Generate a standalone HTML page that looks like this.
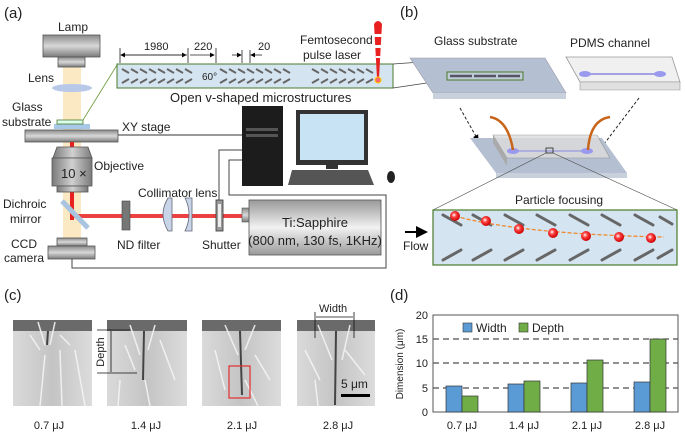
<!DOCTYPE html>
<html><head><meta charset="utf-8"><style>
html,body{margin:0;padding:0;background:#fff}
svg{display:block;font-family:"Liberation Sans",sans-serif}
</style></head><body>
<svg width="685" height="434" viewBox="0 0 685 434" xmlns="http://www.w3.org/2000/svg">
<defs>
<linearGradient id="gv" x1="0" y1="0" x2="0" y2="1"><stop offset="0" stop-color="#8a8a8a"/><stop offset=".5" stop-color="#d8d8d8"/><stop offset="1" stop-color="#7a7a7a"/></linearGradient>
<linearGradient id="gh" x1="0" y1="0" x2="1" y2="0"><stop offset="0" stop-color="#7a7a7a"/><stop offset=".5" stop-color="#d0d0d0"/><stop offset="1" stop-color="#7a7a7a"/></linearGradient>
<linearGradient id="gl" x1="0" y1="0" x2="0" y2="1"><stop offset="0" stop-color="#999"/><stop offset=".5" stop-color="#f2f2f2"/><stop offset="1" stop-color="#999"/></linearGradient>
<linearGradient id="sem" x1="0" y1="0" x2="1" y2="0"><stop offset="0" stop-color="#dadada"/><stop offset=".5" stop-color="#c4c4c4"/><stop offset="1" stop-color="#dcdcdc"/></linearGradient>
<radialGradient id="rb" cx=".4" cy=".4" r=".6"><stop offset="0" stop-color="#fff"/><stop offset=".4" stop-color="#ff4040"/><stop offset="1" stop-color="#c00"/></radialGradient>
<marker id="ar" markerWidth="6" markerHeight="6" refX="5" refY="3" orient="auto"><path d="M0,0L6,3L0,6z" fill="#000"/></marker>
</defs>
<g font-size="12" fill="#222">
<text x="4" y="18" font-size="15">(a)</text>
<rect x="63" y="67" width="18" height="178" fill="#fbe9c4"/>
<rect x="43" y="35" width="57" height="22" fill="url(#gv)" stroke="#555" stroke-width=".8"/>
<rect x="58" y="57" width="27" height="10" fill="url(#gv)" stroke="#555" stroke-width=".8"/>
<text x="58" y="31">Lamp</text>
<ellipse cx="72" cy="88" rx="20" ry="4" fill="#b8c8e8"/>
<text x="28" y="82">Lens</text>
<text x="12" y="111">Glass</text><text x="2" y="126">substrate</text>
<rect x="54" y="124" width="36" height="5" fill="#a8c8e8"/>
<rect x="57" y="120" width="26" height="4" fill="#dfe" stroke="#4a7a2a" stroke-width=".8"/>
<rect x="25" y="130" width="93" height="12" fill="url(#gv)" stroke="#555" stroke-width=".8"/>
<text x="122" y="131">XY stage</text>
<line x1="118" y1="135" x2="242" y2="135" stroke="#333"/>
<rect x="70" y="142" width="4" height="78" fill="#e82020"/>
<path d="M57,147 L88,147 L92,158 L53,158Z" fill="url(#gh)" stroke="#555" stroke-width=".8"/>
<rect x="52" y="158" width="40" height="28" fill="url(#gh)" stroke="#555" stroke-width=".8"/>
<rect x="57" y="186" width="31" height="6" fill="url(#gh)" stroke="#555" stroke-width=".8"/>
<text x="61" y="178" font-size="13">10 ×</text>
<text x="94" y="170">Objective</text>
<rect x="74" y="214" width="170" height="4" fill="#e82020" opacity=".85"/>
<line x1="62" y1="201" x2="88" y2="228" stroke="#a8c4e0" stroke-width="5"/>
<text x="3" y="208">Dichroic</text><text x="10" y="223">mirror</text>
<rect x="122" y="201" width="8" height="29" fill="#777" stroke="#444" stroke-width=".6"/>
<text x="117" y="249">ND filter</text>
<text x="138" y="197">Collimator lens</text>
<path d="M168,198 Q158,214 168,231 L172,231 L172,198Z" fill="#c8d4e8" stroke="#667" stroke-width=".8"/>
<path d="M185,198 Q193,214 185,231 L192,231 L192,198Z" fill="#c8d4e8" stroke="#667" stroke-width=".8"/>
<rect x="216" y="200" width="7" height="31" fill="#999" stroke="#333" stroke-width=".8"/>
<rect x="218" y="204" width="3" height="23" fill="#eee"/>
<text x="202" y="249">Shutter</text>
<rect x="242" y="208" width="7" height="14" fill="url(#gv)" stroke="#555" stroke-width=".6"/>
<rect x="249" y="200" width="132" height="55" fill="url(#gl)" stroke="#555" stroke-width=".8"/>
<text x="315" y="227" text-anchor="middle" font-size="13">Ti:Sapphire</text>
<text x="315" y="245" text-anchor="middle" font-size="13">(800 nm, 130 fs, 1KHz)</text>
<rect x="57" y="238" width="30" height="8" fill="url(#gv)" stroke="#555" stroke-width=".8"/>
<rect x="48" y="246" width="47" height="13" fill="url(#gv)" stroke="#555" stroke-width=".8"/>
<text x="11" y="248">CCD</text><text x="4" y="262">camera</text>
<path d="M72,259 V268 H386 V195 H229 V160 H242" fill="none" stroke="#444"/>
<path d="M219,200 V150 H242" fill="none" stroke="#444"/>
<rect x="242" y="106" width="41" height="80" fill="#1c1c1c"/>
<rect x="246" y="128" width="32" height="3" fill="#555"/><rect x="246" y="134" width="32" height="3" fill="#555"/>
<rect x="296" y="110" width="72" height="55" fill="#333"/>
<rect x="300" y="114" width="64" height="46" fill="#c8e4f4"/>
<rect x="326" y="165" width="12" height="4" fill="#333"/>
<path d="M292,170 L368,170 L374,185 L288,185Z" fill="#555"/>
<ellipse cx="391" cy="177" rx="4" ry="6" fill="#222"/>
<line x1="83" y1="120" x2="117" y2="65" stroke="#6a9a3a" stroke-width=".8"/>
<rect x="117" y="64" width="276" height="24" fill="#d4e4f0" stroke="#4a7a2a"/>
<g stroke="#666" stroke-width="2">
<path d="M122,69 l7,4 M131,69 l7,4 M140,69 l7,4 M149,69 l7,4 M158,69 l7,4 M167,69 l7,4 M176,69 l7,4 M185,69 l7,4 M220,69 l7,4 M229,69 l7,4 M238,69 l7,4 M247,69 l7,4 M256,69 l7,4 M265,69 l7,4 M274,69 l7,4 M283,69 l7,4 M312,69 l7,4 M321,69 l7,4 M330,69 l7,4 M339,69 l7,4 M348,69 l7,4 M357,69 l7,4 M366,69 l7,4"/>
<path d="M122,83 l7,-4 M131,83 l7,-4 M140,83 l7,-4 M149,83 l7,-4 M158,83 l7,-4 M167,83 l7,-4 M176,83 l7,-4 M185,83 l7,-4 M220,83 l7,-4 M229,83 l7,-4 M238,83 l7,-4 M247,83 l7,-4 M256,83 l7,-4 M265,83 l7,-4 M274,83 l7,-4 M283,83 l7,-4 M312,83 l7,-4 M321,83 l7,-4 M330,83 l7,-4 M339,83 l7,-4 M348,83 l7,-4 M357,83 l7,-4 M366,83 l7,-4"/>
</g>
<text x="202" y="80" font-size="10">60°</text>
<g stroke="#222" stroke-width=".8">
<line x1="120" y1="48" x2="120" y2="63"/><line x1="188" y1="48" x2="188" y2="63"/><line x1="216" y1="48" x2="216" y2="63"/>
<line x1="242" y1="50" x2="242" y2="63"/><line x1="250" y1="50" x2="250" y2="63"/>
<line x1="121" y1="55" x2="186" y2="55" marker-end="url(#ar)"/><line x1="187" y1="55" x2="121" y2="55" marker-end="url(#ar)"/>
<line x1="190" y1="55" x2="214" y2="55" marker-end="url(#ar)"/>
<line x1="232" y1="55" x2="241" y2="55" marker-end="url(#ar)"/><line x1="262" y1="55" x2="251" y2="55" marker-end="url(#ar)"/>
</g>
<text x="144" y="50" font-size="11">1980</text><text x="194" y="50" font-size="11">220</text><text x="258" y="50" font-size="11">20</text>
<text x="300" y="44">Femtosecond</text><text x="303" y="59">pulse laser</text>
<path d="M374,24 Q378,18 382,24 L379,78 L377,78Z" fill="#e82020"/>
<rect x="374" y="34" width="8" height="3" fill="#fff"/><rect x="375" y="45" width="7" height="3" fill="#fff"/><rect x="376" y="56" width="6" height="2" fill="#fff"/>
<circle cx="378" cy="80" r="3" fill="#f66" stroke="#fc0"/>
<text x="170" y="102" font-size="13">Open v-shaped microstructures</text>
<line x1="393" y1="64" x2="450" y2="60" stroke="#444" stroke-width=".8"/><line x1="393" y1="88" x2="447" y2="80" stroke="#444" stroke-width=".8"/>

<text x="400" y="17" font-size="15">(b)</text>
<text x="434" y="45">Glass substrate</text><text x="570" y="47">PDMS channel</text>
<path d="M410,58 L545,58 L566,93 L433,93Z" fill="#b4c0d2" stroke="#99a" stroke-width=".6"/>
<path d="M433,93 L566,93 L566,99 L433,99Z" fill="#c8d0dc"/>
<rect x="447" y="72" width="76" height="8" fill="#c0ccd8" stroke="#4a7a2a"/>
<g stroke="#556" stroke-width="2.5"><line x1="450" y1="76" x2="472" y2="76"/><line x1="474" y1="76" x2="496" y2="76"/><line x1="498" y1="76" x2="520" y2="76"/></g>
<path d="M566,57 L672,57 L680,82 L580,82Z" fill="#f0f0f0" stroke="#999" stroke-width=".8"/>
<path d="M580,82 L680,82 L680,90 L580,90Z" fill="#e0e0e0" stroke="#999" stroke-width=".6"/>
<line x1="585" y1="74" x2="660" y2="74" stroke="#88d" stroke-width="1.5"/>
<ellipse cx="585" cy="74" rx="6" ry="3" fill="#99e"/><ellipse cx="660" cy="74" rx="6" ry="3" fill="#99e"/>
<line x1="460" y1="108" x2="478" y2="140" stroke="#222" stroke-dasharray="3,2" marker-end="url(#ar)"/>
<line x1="639" y1="98" x2="601" y2="148" stroke="#222" stroke-dasharray="3,2" marker-end="url(#ar)"/>
<path d="M470,138 L602,138 L627,173 L496,173Z" fill="#b4c0d2"/>
<path d="M496,173 L627,173 L627,178 L496,178Z" fill="#c8d0dc"/>
<path d="M493,135 L597,135 L610,158 L507,158Z" fill="#dcdcdc" opacity=".8" stroke="#888" stroke-width=".6"/>
<path d="M493,135 L507,158 L507,166 L493,143Z" fill="#aaa"/>
<line x1="513" y1="151" x2="587" y2="151" stroke="#88d"/>
<ellipse cx="513" cy="151" rx="6" ry="3" fill="#99e"/><ellipse cx="587" cy="151" rx="6" ry="3" fill="#99e"/>
<path d="M490,117 Q508,120 513,150" fill="none" stroke="#c8651a" stroke-width="2.5"/>
<path d="M610,117 Q590,120 588,150" fill="none" stroke="#c8651a" stroke-width="2.5"/>
<rect x="546" y="148" width="7" height="5" fill="none" stroke="#222" stroke-width=".8"/>
<line x1="546" y1="153" x2="433" y2="210" stroke="#444" stroke-width=".6"/><line x1="553" y1="153" x2="677" y2="210" stroke="#444" stroke-width=".6"/>
<text x="515" y="204" font-size="12">Particle focusing</text>
<rect x="433" y="210" width="244" height="55" fill="#d4e4f0" stroke="#4a7a2a" stroke-width="1.2"/>
<g stroke="#666" stroke-width="3" stroke-linecap="round">
<path d="M443,215 l18,10 M473,215 l18,10 M505,215 l18,10 M537,215 l18,10 M570,215 l18,10 M602,215 l18,10 M635,215 l18,10 M660,217 l12,7"/>
<path d="M443,260 l18,-10 M473,260 l18,-10 M505,260 l18,-10 M537,260 l18,-10 M570,260 l18,-10 M602,260 l18,-10 M635,260 l18,-10 M658,258 l14,-8"/>
</g>
<path d="M455,216 Q520,234 664,237" fill="none" stroke="#f08a30" stroke-width="1.3" stroke-dasharray="4,2"/>
<g fill="url(#rb)"><circle cx="455" cy="216" r="5"/><circle cx="486" cy="221" r="5"/><circle cx="519" cy="229" r="5"/><circle cx="553" cy="233" r="5"/><circle cx="586" cy="236" r="5"/><circle cx="619" cy="237" r="5"/><circle cx="651" cy="238" r="5"/></g>
<line x1="405" y1="232" x2="426" y2="232" stroke="#000" stroke-width="2" marker-end="url(#ar)"/>
<text x="403" y="250">Flow</text>

<text x="4" y="300" font-size="15">(c)</text>
<g>
<rect x="13" y="320" width="79" height="86" fill="url(#sem)"/><rect x="13" y="320" width="79" height="11" fill="#6a6a6a"/>
<rect x="107" y="320" width="80" height="86" fill="url(#sem)"/><rect x="107" y="320" width="80" height="11" fill="#6a6a6a"/>
<rect x="202" y="320" width="79" height="86" fill="url(#sem)"/><rect x="202" y="320" width="79" height="11" fill="#6a6a6a"/>
<rect x="297" y="320" width="78" height="86" fill="url(#sem)"/><rect x="297" y="320" width="78" height="11" fill="#6a6a6a"/>
<g stroke="#f4f4f4" stroke-width="1.5" fill="none" opacity=".9">
<path d="M38,322 L45,345 M55,322 L50,345 M30,335 L40,350 M60,335 L70,345 M45,355 L40,406 M60,350 L62,406 M75,350 L85,406"/>
<path d="M130,325 L140,355 M155,325 L148,350 M125,345 L135,370 M160,340 L175,380 M145,380 L150,406 M120,380 L118,406"/>
<path d="M225,325 L238,355 M255,325 L245,350 M215,350 L225,390 M255,355 L270,380 M245,380 L258,406"/>
<path d="M318,325 L332,360 M350,325 L342,360 M305,350 L320,380 M345,350 L365,375 M315,380 L318,406"/>
</g>
<g stroke="#444" stroke-width="2" fill="none"><path d="M48,331 L47,345"/><path d="M144,331 L143,380"/><path d="M240,331 L242,395"/><path d="M336,331 L335,405"/></g>
</g>
<g stroke="#111" stroke-width=".8"><line x1="97" y1="330" x2="130" y2="330"/><line x1="97" y1="373" x2="137" y2="373"/><line x1="111" y1="331" x2="111" y2="372"/></g>
<text x="104" y="352" font-size="11" transform="rotate(-90 104 352)" text-anchor="middle">Depth</text>
<rect x="229" y="366" width="21" height="32" fill="none" stroke="#e03030" stroke-width="1.2"/>
<g stroke="#111" stroke-width=".8"><line x1="315" y1="312" x2="315" y2="338"/><line x1="354" y1="312" x2="354" y2="338"/><line x1="316" y1="317" x2="353" y2="317"/></g>
<text x="319" y="312" font-size="11">Width</text>
<text x="341" y="388" font-size="12">5 μm</text><rect x="341" y="394" width="29" height="3" fill="#000"/>
<g font-size="11" text-anchor="middle"><text x="49" y="429">0.7 μJ</text><text x="146" y="429">1.4 μJ</text><text x="242" y="429">2.1 μJ</text><text x="338" y="429">2.8 μJ</text></g>

<text x="390" y="300" font-size="15">(d)</text>
<g stroke="#222" stroke-dasharray="6,4" stroke-width=".9"><line x1="433" y1="388" x2="678" y2="388"/><line x1="433" y1="363" x2="678" y2="363"/><line x1="433" y1="339" x2="678" y2="339"/></g>
<rect x="433" y="315" width="245" height="97" fill="none" stroke="#555"/>
<g font-size="11" text-anchor="end"><text x="428" y="416">0</text><text x="428" y="392">5</text><text x="428" y="367">10</text><text x="428" y="343">15</text><text x="428" y="319">20</text></g>
<text x="403" y="364" font-size="10" transform="rotate(-90 403 364)" text-anchor="middle">Dimension (μm)</text>
<g stroke="#333" stroke-width=".7">
<rect x="446" y="386" width="16" height="26" fill="#5b9bd5"/><rect x="462" y="396" width="16" height="16" fill="#70ad47"/>
<rect x="508" y="384" width="16" height="28" fill="#5b9bd5"/><rect x="524" y="381" width="16" height="31" fill="#70ad47"/>
<rect x="571" y="383" width="16" height="29" fill="#5b9bd5"/><rect x="587" y="360" width="16" height="52" fill="#70ad47"/>
<rect x="634" y="382" width="16" height="30" fill="#5b9bd5"/><rect x="650" y="339" width="16" height="73" fill="#70ad47"/>
</g>
<rect x="463" y="323" width="9" height="9" fill="#5b9bd5" stroke="#333" stroke-width=".6"/><text x="476" y="332" font-size="12">Width</text>
<rect x="519" y="323" width="9" height="9" fill="#70ad47" stroke="#333" stroke-width=".6"/><text x="532" y="332" font-size="12">Depth</text>
<g font-size="11" text-anchor="middle"><text x="462" y="429">0.7 μJ</text><text x="524" y="429">1.4 μJ</text><text x="587" y="429">2.1 μJ</text><text x="650" y="429">2.8 μJ</text></g>
</g>
</svg>
</body></html>
